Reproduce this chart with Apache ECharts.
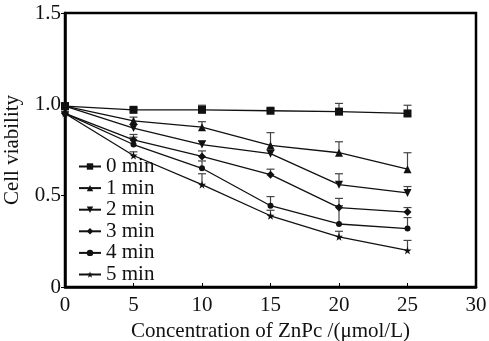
<!DOCTYPE html>
<html lang="en">
<head>
    <meta charset="UTF-8">
    <title>Cell viability</title>
    <script src="https://cdn.jsdelivr.net/npm/echarts@6/dist/echarts.min.js"></script>
    <style>
        html, body { margin: 0; padding: 0; background: #fff; }
        #chart { width: 489px; height: 341px; }
    </style>
</head>
<body>
<div id="chart"></div>
<script type="text/javascript">
    var xdata = [0, 5, 10, 15, 20, 25];
    var names = ['0 min', '1 min', '2 min', '3 min', '4 min', '5 min'];
    var min0 = [0.99, 0.97, 0.97, 0.965, 0.96, 0.95];
    var min1 = [0.99, 0.91, 0.875, 0.775, 0.735, 0.645];
    var min2 = [0.99, 0.87, 0.78, 0.73, 0.56, 0.515];
    var min3 = [0.95, 0.805, 0.715, 0.615, 0.435, 0.41];
    var min4 = [0.95, 0.78, 0.65, 0.445, 0.345, 0.32];
    var min5 = [0.95, 0.72, 0.56, 0.39, 0.275, 0.2];
    // upper error bars (only the + side is drawn)
    var err0 = [0.01, 0.01, 0.025, 0.01, 0.045, 0.045];
    var err1 = [0.01, 0.02, 0.03, 0.07, 0.06, 0.09];
    var err2 = [0.01, 0.02, 0.02, 0.02, 0.06, 0.035];
    var err3 = [0.01, 0.03, 0.03, 0.03, 0.05, 0.025];
    var err4 = [0.01, 0.04, 0.04, 0.05, 0.1, 0.06];
    var err5 = [0.01, 0.02, 0.06, 0.03, 0.03, 0.055];
    var yticks = ['0', '0.5', '1.0', '1.5'];

    var symbols = [
        'rect',
        'triangle',
        'path://M0,0 L10,0 L5,9 Z',
        'diamond',
        'circle',
        'path://M5,0 L6.2,3.6 L10,3.6 L7,5.9 L8.1,9.5 L5,7.3 L1.9,9.5 L3,5.9 L0,3.6 L3.8,3.6 Z'
    ];
    var means = [min0, min1, min2, min3, min4, min5];
    var errs = [err0, err1, err2, err3, err4, err5];
    var font = '"Liberation Serif", "DejaVu Serif", serif';

    var series = [];
    means.forEach(function (m, i) {
        var errData = [];
        for (var k = 0; k < xdata.length; k++) {
            errData.push([xdata[k], m[k], m[k] + errs[i][k]]);
        }
        series.push({
            type: 'custom',
            silent: true,
            z: 1,
            renderItem: function (params, api) {
                var lo = api.coord([api.value(0), api.value(1)]);
                var hi = api.coord([api.value(0), api.value(2)]);
                var st = { stroke: '#444', lineWidth: 1.2 };
                return {
                    type: 'group',
                    children: [
                        { type: 'line', shape: { x1: lo[0], y1: lo[1], x2: hi[0], y2: hi[1] }, style: st },
                        { type: 'line', shape: { x1: hi[0] - 4, y1: hi[1], x2: hi[0] + 4, y2: hi[1] }, style: st }
                    ]
                };
            },
            encode: { x: 0, y: [1, 2] },
            data: errData
        });
        var pts = [];
        for (var j = 0; j < xdata.length; j++) {
            pts.push([xdata[j], m[j]]);
        }
        series.push({
            name: names[i],
            type: 'line',
            z: 3,
            data: pts,
            symbol: symbols[i],
            symbolSize: i == 4 ? 6 : 8,
            showAllSymbol: true,
            lineStyle: { color: '#111', width: 1.3 },
            itemStyle: { color: '#111' }
        });
    });

    var chart = echarts.init(document.getElementById('chart'));
    chart.setOption({
        animation: false,
        textStyle: { fontFamily: font },
        grid: {
            left: 65,
            right: 13,
            top: 13,
            bottom: 54,
            containLabel: false,
            outerBoundsMode: 'none',
            show: true,
            borderColor: '#000',
            borderWidth: 2.5
        },
        legend: {
            data: names,
            orient: 'vertical',
            left: 78,
            top: 156,
            padding: 0,
            itemWidth: 22,
            itemHeight: 8,
            itemGap: 0.6,
            textStyle: { fontFamily: font, fontSize: 21, color: '#111' }
        },
        xAxis: {
            type: 'value',
            min: 0,
            max: 30,
            interval: 5,
            name: 'Concentration of ZnPc /(μmol/L)',
            nameLocation: 'middle',
            nameGap: 33,
            nameTextStyle: { fontFamily: font, fontSize: 21, color: '#111' },
            axisLine: { lineStyle: { color: '#000', width: 2.5 } },
            axisTick: { inside: true, length: 4, lineStyle: { color: '#000' } },
            axisLabel: { fontFamily: font, fontSize: 21, color: '#111', margin: 8 },
            splitLine: { show: false }
        },
        yAxis: {
            type: 'value',
            min: 0,
            max: 1.5,
            interval: 0.5,
            name: 'Cell viability',
            nameLocation: 'middle',
            nameRotate: 90,
            nameGap: 42,
            nameTextStyle: { fontFamily: font, fontSize: 21, color: '#111' },
            axisLine: { lineStyle: { color: '#000', width: 2.5 } },
            axisTick: { length: 4, lineStyle: { color: '#000' } },
            axisLabel: {
                fontFamily: font,
                fontSize: 21,
                color: '#111',
                margin: 4,
                formatter: function (v) {
                    return yticks[Math.round(v / 0.5)];
                }
            },
            splitLine: { show: false }
        },
        series: series
    });
</script>
</body>
</html>
